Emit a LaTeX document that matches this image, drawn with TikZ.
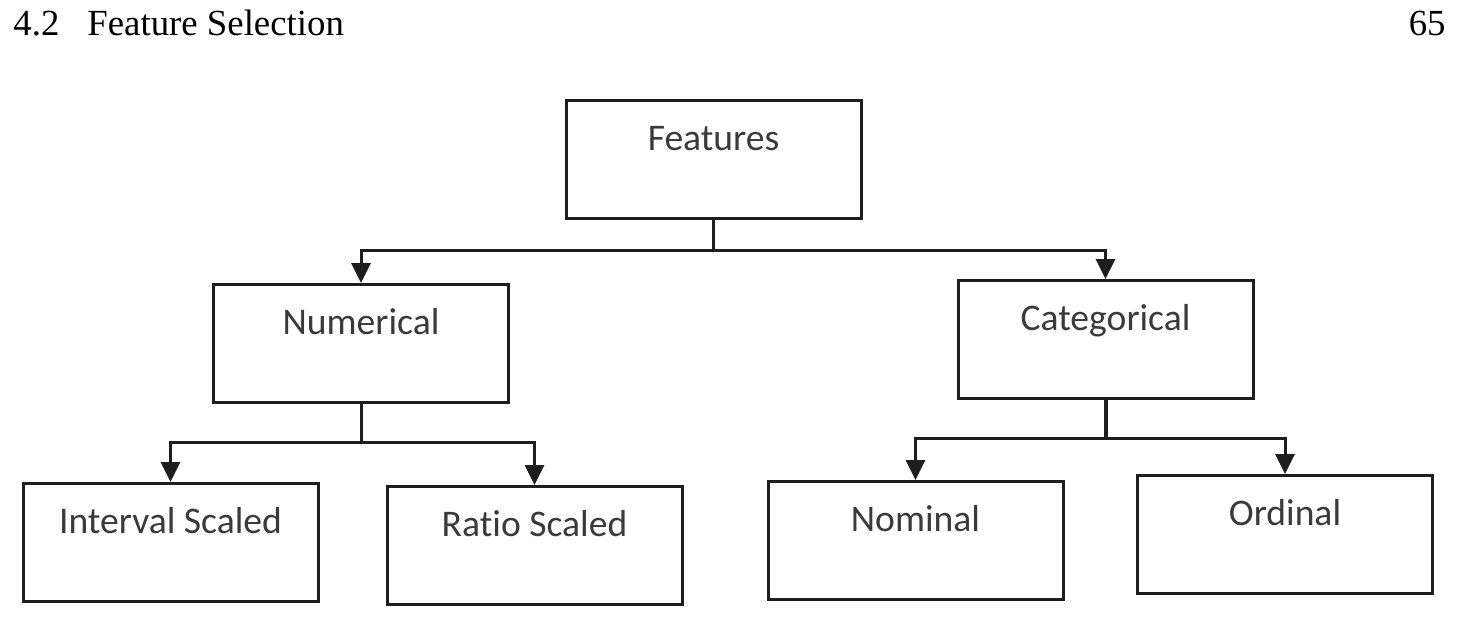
\documentclass[tikz,border=0pt]{standalone}
\usepackage{fontspec}
\setmainfont{Liberation Serif}
\newfontfamily\carlito[Ligatures=NoCommon]{Carlito}
\usetikzlibrary{arrows.meta}
\definecolor{linec}{HTML}{1E1E1E}
\definecolor{textc}{HTML}{3A3A3A}
\tikzset{
  box/.style={draw=linec, line width=1.5pt, inner xsep=0pt, inner ysep=0pt,
    minimum width=147.5pt, text height=25pt, text depth=34pt,
    font=\carlito\fontsize{18.8}{22}\selectfont, text=textc},
  conn/.style={draw=linec, line width=1.5pt},
  arr/.style={conn, -{Triangle[length=10pt,width=9.5pt]}},
  hdr/.style={font=\fontsize{18.4}{22}\selectfont, inner sep=0pt, anchor=base west}
}
\begin{document}
\begin{tikzpicture}[x=0.5pt,y=-0.5pt]
\useasboundingbox (0,0) rectangle (1457,617);
% header
\node[hdr] (secnum) at (13,35) {4.2};
\node[hdr] (sectitle) at (87,35) {Feature Selection};
\node[hdr, anchor=base east] (pagenum) at (1446,35) {65};
% boxes (anchored at north)
\node[box, anchor=north] (feat) at (713.5,99) {Features};
\node[box, anchor=north] (num) at (361,283) {Numerical};
\node[box, anchor=north] (cat) at (1105.5,279) {Categorical};
\node[box, anchor=north] (intv) at (170.5,482) {Interval Scaled};
\node[box, anchor=north] (ratio) at (534.5,485) {Ratio Scaled};
\node[box, anchor=north] (nom) at (915.5,480) {Nominal};
\node[box, anchor=north] (ord) at (1285,474) {Ordinal};
% junctions
\coordinate (j1) at (712,250);
\coordinate (j2) at (361,442);
\coordinate (j3) at (1104,438);
% connectors
\draw[conn] (feat.south) -- (feat.south |- j1);
\draw[arr] (feat.south |- j1) -| (num.north);
\draw[arr] (feat.south |- j1) -| (cat.north);
\draw[conn] (num.south) -- (num.south |- j2);
\draw[arr] (num.south |- j2) -| (intv.north);
\draw[arr] (num.south |- j2) -| (ratio.north);
\draw[conn, line width=2pt] (cat.south) -- (cat.south |- j3);
\draw[arr] (cat.south |- j3) -| (nom.north);
\draw[arr] (cat.south |- j3) -| (ord.north);
\end{tikzpicture}
\end{document}
